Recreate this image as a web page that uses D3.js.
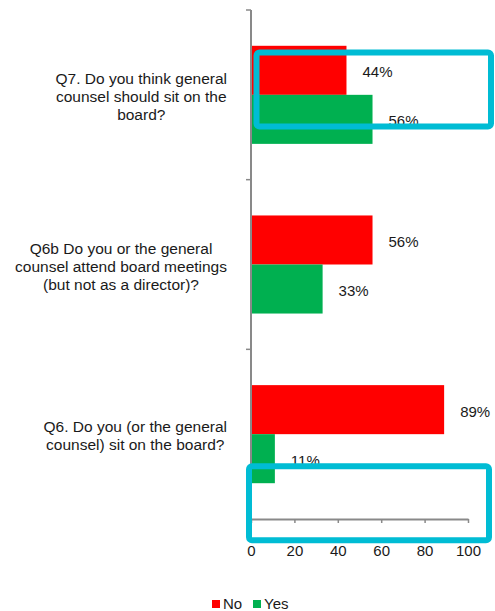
<!DOCTYPE html>
<html><head><meta charset="utf-8">
<script src="https://cdn.jsdelivr.net/npm/d3@7"></script>
<style>body{margin:0;background:#fff}svg{display:block}</style>
</head><body>
<svg id="c" width="495" height="611"></svg>
<script>
const categories = [
  ["Q7. Do you think general", "counsel should sit on the", "board?"],
  ["Q6b Do you or the general", "counsel attend board meetings", "(but not as a director)?"],
  ["Q6. Do you (or the general", "counsel) sit on the board?"]
];
const categoryKeys = ["Q7", "Q6b", "Q6"];
const seriesNames = ["No", "Yes"];
const noValues = [44, 56, 89];
const yesValues = [56, 33, 11];
const xTicks = [0, 20, 40, 60, 80, 100];
const colors = {No: "#ff0000", Yes: "#00b050"};

(function () {
const svg = d3.select("#c");
const font = "'Liberation Sans', Arial, sans-serif";
const pLeft = 251, pRight = 468, pTop = 10, pBottom = 519;

const x = d3.scaleLinear().domain([0, 100]).range([pLeft, pRight]);
const y = d3.scaleBand().domain(categoryKeys).range([pTop, pBottom]).paddingInner(0).paddingOuter(0);
const sub = d3.scaleBand().domain(seriesNames).range([0, y.bandwidth()]).paddingInner(0).paddingOuter(0.73);

const data = categoryKeys.map((k, i) => ({key: k, No: noValues[i], Yes: yesValues[i]}));

// bars
const g = svg.append("g");
data.forEach(d => {
  seriesNames.forEach(s => {
    g.append("rect")
      .attr("x", x(0)).attr("y", y(d.key) + sub(s))
      .attr("width", x(d[s]) - x(0)).attr("height", sub.bandwidth())
      .attr("fill", colors[s]);
    g.append("text")
      .attr("x", x(d[s]) + 16).attr("y", y(d.key) + sub(s) + sub.bandwidth() / 2 + 1.5)
      .attr("dominant-baseline", "central")
      .attr("font-family", font).attr("font-size", 15).attr("fill", "#1a1a1a")
      .text(d[s] + "%");
  });
});

// y axis
const axisColor = "#898989";
svg.append("line").attr("x1", pLeft).attr("x2", pLeft).attr("y1", pTop).attr("y2", pBottom)
  .attr("stroke", axisColor).attr("stroke-width", 2);
const yBounds = [pTop].concat(categoryKeys.slice(1).map(k => y(k)));
yBounds.forEach(v => {
  svg.append("line").attr("x1", pLeft - 5).attr("x2", pLeft).attr("y1", v).attr("y2", v)
    .attr("stroke", axisColor).attr("stroke-width", 1.5);
});

// x axis
const xAxis = d3.axisBottom(x).tickValues(xTicks).tickSize(4).tickSizeOuter(0).tickPadding(22);
const xa = svg.append("g").attr("transform", `translate(0,${pBottom})`).call(xAxis);
xa.select(".domain").attr("stroke", axisColor).attr("stroke-width", 2);
xa.selectAll(".tick line").attr("stroke", axisColor).attr("stroke-width", 1.5);
xa.selectAll(".tick text").attr("font-family", font).attr("font-size", 15).attr("fill", "#1a1a1a");

// category labels
const lh = 18, rightEdge = 227;
categories.forEach((lines, i) => {
  const cy = y(categoryKeys[i]) + y.bandwidth() / 2 + 1.5;
  const t = svg.append("text").attr("font-family", font).attr("font-size", 15.5).attr("fill", "#1a1a1a")
    .attr("text-anchor", "middle");
  const spans = lines.map(l => t.append("tspan").text(l));
  const widths = spans.map(s => s.node().getComputedTextLength());
  const w = d3.max(widths);
  const cx = rightEdge - w / 2;
  spans.forEach((s, j) => {
    s.attr("x", cx).attr("y", cy + (j - (lines.length - 1) / 2) * lh).attr("dominant-baseline", "central");
  });
});

// legend
const lg = svg.append("g").attr("font-family", font).attr("font-size", 15).attr("fill", "#1a1a1a");
const legendX = {No: 212, Yes: 253};
seriesNames.forEach(s => {
  lg.append("rect").attr("x", legendX[s]).attr("y", 600).attr("width", 8).attr("height", 8).attr("fill", colors[s]);
  lg.append("text").attr("x", legendX[s] + 11).attr("y", 608.5).text(s);
});

// highlight annotation boxes
const cyan = "#00bcd4";
svg.append("rect").attr("x", 256.5).attr("y", 52.5).attr("width", 234.5).attr("height", 74)
  .attr("rx", 3).attr("fill", "none").attr("stroke", cyan).attr("stroke-width", 6);
svg.append("rect").attr("x", 249).attr("y", 466.3).attr("width", 240).attr("height", 74)
  .attr("rx", 3).attr("fill", "none").attr("stroke", cyan).attr("stroke-width", 6);
})();
</script>
</body></html>
